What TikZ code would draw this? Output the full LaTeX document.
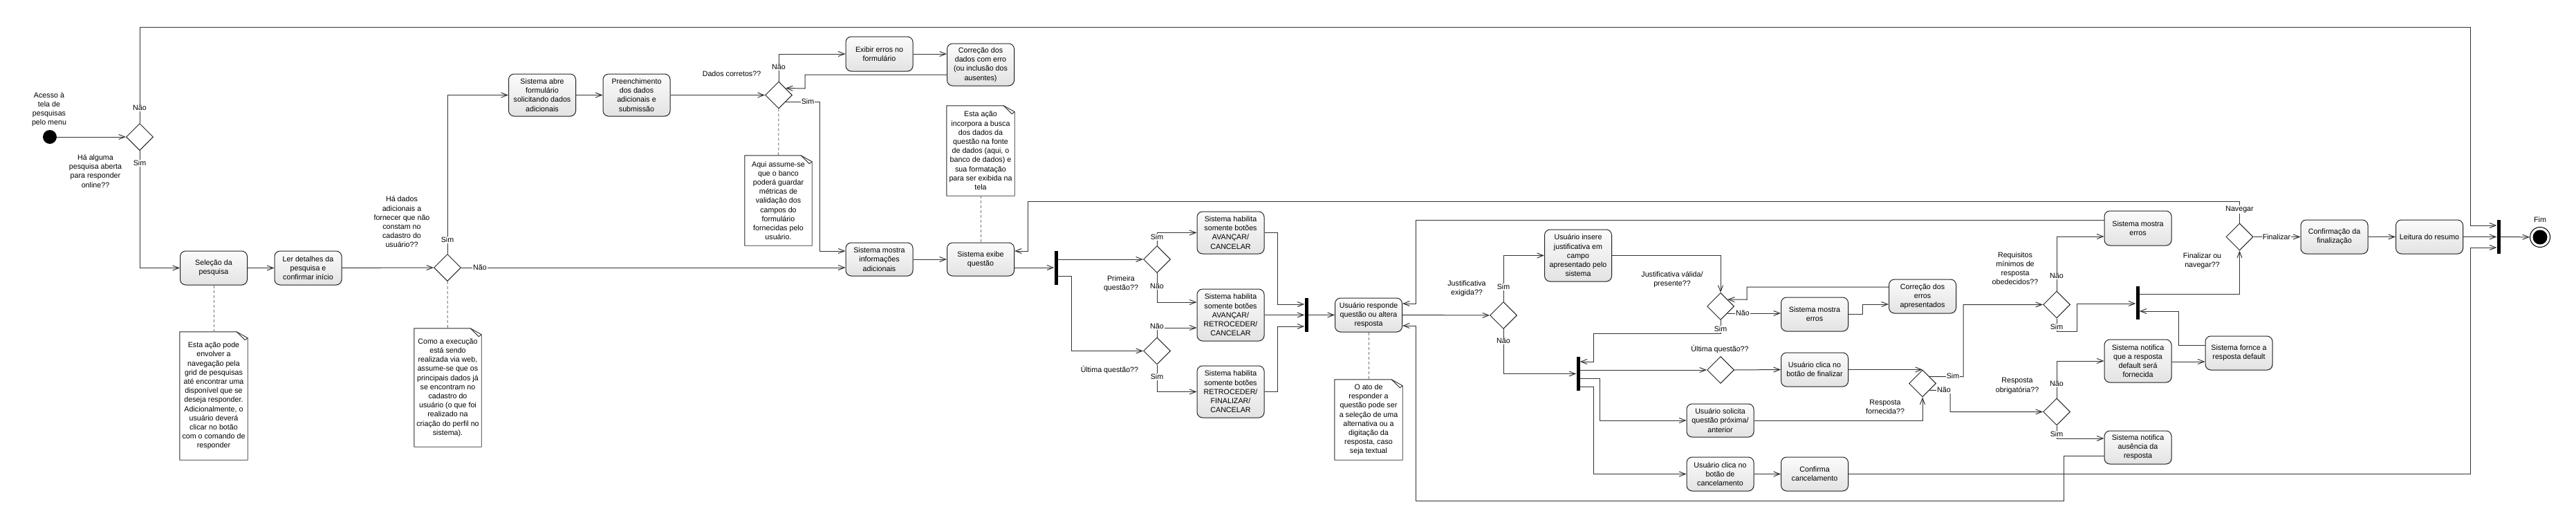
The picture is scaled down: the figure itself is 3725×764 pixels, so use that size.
\documentclass[tikz,border=0pt]{standalone}
\usepackage{fontspec}
\setmainfont{Liberation Sans}
\usetikzlibrary{positioning}
\usetikzlibrary{shapes.geometric,arrows.meta,shadows}
\newcommand{\diagfont}{\fontsize{10.7}{13.2}\selectfont}
\tikzstyle{act}=[rectangle, rounded corners=8pt, draw=black!85, line width=1pt, top color=gray!3, bottom color=gray!22, drop shadow={opacity=0.2,shadow xshift=1pt,shadow yshift=-1pt}, minimum width=97pt, minimum height=49pt, inner sep=3pt, align=center, font=\diagfont]
\tikzstyle{dec}=[diamond, draw=black!85, line width=1pt, fill=white, minimum width=39pt, minimum height=39pt, inner sep=0pt]
\tikzstyle{syncbar}=[rectangle, fill=black, minimum width=5pt, inner sep=0pt]
\tikzstyle{memo}=[rectangle, fill=white, minimum width=98pt, inner sep=3pt, align=center, font=\diagfont]
\tikzstyle{memoline}=[draw=black!85, line width=0.9pt, line join=round]
\tikzstyle{cond}=[align=center, inner sep=0pt, font=\diagfont]
\tikzstyle{lbl}=[fill=white, inner sep=1pt, font=\diagfont]
\tikzstyle{flow}=[draw=black!80, line width=1pt, -{Straight Barb[length=9pt,width=7pt]}]
\tikzstyle{link}=[draw=black!55, line width=1pt, dash pattern=on 4pt off 3pt]
\tikzstyle{startdot}=[circle, fill=black, minimum size=20pt, inner sep=0pt]
\tikzstyle{endring}=[circle, draw=black, line width=1pt, fill=white, minimum size=29pt, inner sep=0pt]
\newcommand{\memofold}[1]{%
  \draw[memoline] (#1.north west) -- ([xshift=-16pt]#1.north east) -- ([yshift=-9pt]#1.north east) -- (#1.south east) -- (#1.south west) -- cycle;
  \draw[memoline] ([xshift=-16pt]#1.north east) -- ([xshift=-4pt,yshift=-12pt]#1.north east) -- ([yshift=-9pt]#1.north east);}

\begin{document}
\begin{tikzpicture}[x=1pt,y=-1pt]
  \useasboundingbox (0,0) rectangle (3725,764);

  % entrada
  \node[startdot] (start) at (72,198) {};
  \node[cond] (cAcesso) at (71,158) {Acesso à\\tela de\\pesquisas\\pelo menu};
  \node[dec] (d1) at (202,198) {};
  \node[cond] (cAberta) at (138,247.5) {Há alguma\\pesquisa aberta\\para responder\\online??};
  \node[act] (sel) at (309,387.5) {Seleção da\\pesquisa};
  \node[act] (ler) at (445.5,387.5) {Ler detalhes da\\pesquisa e\\confirmar início};
  \node[memo, minimum height=185pt] (n1) at (309,572.5) {Esta ação pode\\envolver a\\navegação pela\\grid de pesquisas\\até encontrar uma\\disponível que se\\deseja responder.\\Adicionalmente, o\\usuário deverá\\clicar no botão\\com o comando de\\responder};

  % dados adicionais
  \node[dec] (d2) at (647,387) {};
  \node[cond] (cDados) at (581,321) {Há dados\\adicionais a\\fornecer que não\\constam no\\cadastro do\\usuário??};
  \node[memo, minimum height=171pt, minimum width=97pt] (n2) at (647.5,560.5) {Como a execução\\está sendo\\realizada via web,\\assume-se que os\\principais dados já\\se encontram no\\cadastro do\\usuário (o que foi\\realizado na\\criação do perfil no\\sistema).};
  \node[act, minimum height=61pt] (abre) at (784,137.5) {Sistema abre\\formulário\\solicitando dados\\adicionais};
  \node[act, minimum height=61pt] (preench) at (920.5,137.5) {Preenchimento\\dos dados\\adicionais e\\submissão};
  \node[dec] (d3) at (1126,137.5) {};
  \node[cond] (cCorretos) at (1058,107) {Dados corretos??};
  \node[memo, minimum height=130pt, minimum width=97pt] (n3) at (1125.5,290) {Aqui assume-se\\que o banco\\poderá guardar\\métricas de\\validação dos\\campos do\\formulário\\fornecidas pelo\\usuário.};
  \node[act, minimum height=50pt] (exibir) at (1271.5,78) {Exibir erros no\\formulário};
  \node[act, minimum height=61pt] (corrdados) at (1418,93.5) {Correção dos\\dados com erro\\(ou inclusão dos\\ausentes)};
  \node[act, minimum height=48pt] (mostrainfo) at (1271.5,375) {Sistema mostra\\informações\\adicionais};
  \node[act, minimum height=48pt] (exibeq) at (1418,375) {Sistema exibe\\questão};
  \node[memo, minimum height=130pt] (n4) at (1418,218) {Esta ação\\incorpora a busca\\dos dados da\\questão na fonte\\de dados (aqui, o\\banco de dados) e\\sua formatação\\para ser exibida na\\tela};

  % botões
  \node[syncbar, minimum height=49pt] (fork1) at (1527,387.5) {};
  \node[dec] (d4) at (1673,375) {};
  \node[cond] (cPrimeira) at (1621,410) {Primeira\\questão??};
  \node[dec] (d5) at (1673,507.5) {};
  \node[cond] (cUltima) at (1604.5,535) {Última questão??};
  \node[act, minimum height=61pt] (hab1) at (1779.5,336.5) {Sistema habilita\\somente botões\\AVANÇAR/\\CANCELAR};
  \node[act, minimum height=75pt] (hab2) at (1779.5,455.5) {Sistema habilita\\somente botões\\AVANÇAR/\\RETROCEDER/\\CANCELAR};
  \node[act, minimum height=75pt] (hab3) at (1779.5,566.5) {Sistema habilita\\somente botões\\RETROCEDER/\\FINALIZAR/\\CANCELAR};
  \node[syncbar, minimum height=49pt] (join1) at (1889,455.5) {};

  % resposta
  \node[act] (responde) at (1979,455.5) {Usuário responde\\questão ou altera\\resposta};
  \node[memo, minimum height=116pt] (n5) at (1979,607) {O ato de\\responder a\\questão pode ser\\a seleção de uma\\alternativa ou a\\digitação da\\resposta, caso\\seja textual};
  \node[dec] (d6) at (2174,456) {};
  \node[cond] (cExigida) at (2121,417.5) {Justificativa\\exigida??};
  \node[act, minimum height=75pt] (insere) at (2282,369.5) {Usuário insere\\justificativa em\\campo\\apresentado pelo\\sistema};
  \node[dec] (d7) at (2488,443) {};
  \node[cond] (cValida) at (2418,404.5) {Justificativa válida/\\presente??};
  \node[syncbar, minimum height=49pt] (fork2) at (2282,540.5) {};
  \node[dec] (d8) at (2488,535) {};
  \node[cond] (cUltima2) at (2487,505) {Última questão??};
  \node[act, minimum height=48pt] (solicita) at (2487.5,608) {Usuário solicita\\questão próxima/\\anterior};
  \node[act] (cancela) at (2487.5,685.5) {Usuário clica no\\botão de\\cancelamento};
  \node[act] (erros2) at (2624,454.5) {Sistema mostra\\erros};
  \node[act] (corrErros) at (2780,428.5) {Correção dos\\erros\\apresentados};
  \node[act] (finalizar) at (2624,534.5) {Usuário clica no\\botão de finalizar};
  \node[act] (confirma) at (2624,685.5) {Confirma\\cancelamento};
  \node[dec] (d9) at (2780,554.5) {};
  \node[cond] (cFornecida) at (2726,588.5) {Resposta\\fornecida??};
  \node[dec] (d10) at (2974,440.5) {};
  \node[cond] (cRequisitos) at (2914,388) {Requisitos\\mínimos de\\resposta\\obedecidos??};
  \node[dec] (d11) at (2974,595.5) {};
  \node[cond] (cObrig) at (2917,558) {Resposta\\obrigatória??};
  \node[act, minimum height=50pt] (erros1) at (3091.5,330) {Sistema mostra\\erros};
  \node[act, minimum height=62pt] (notdef) at (3091.5,522) {Sistema notifica\\que a resposta\\default será\\fornecida};
  \node[act, minimum height=48pt] (notaus) at (3091.5,647) {Sistema notifica\\ausência da\\resposta};
  \node[act] (fornce) at (3237.5,510.5) {Sistema fornce a\\resposta default};
  \node[syncbar, minimum height=48pt] (fork3) at (3091,438) {};

  % final
  \node[dec] (d12) at (3238.5,342.5) {};
  \node[cond] (cFinNav) at (3184.5,377.5) {Finalizar ou\\navegar??};
  \node[act] (confFin) at (3375.5,342.5) {Confirmação da\\finalização};
  \node[act] (leitura) at (3513,342.5) {Leitura do resumo};
  \node[syncbar, minimum height=49pt] (endbar) at (3613,342.5) {};
  \node[endring] (fim) at (3673,343) {};
  \node[circle, fill=black, minimum size=21pt, inner sep=0pt] (fimdot) at (fim) {};
  \node[cond] (cFim) at (3673,318) {Fim};

  \memofold{n1}
  \memofold{n2}
  \memofold{n3}
  \memofold{n4}
  \memofold{n5}

  \draw[link] (sel) -- (n1);
  \draw[link] (d2) -- (n2);
  \draw[link] (d3) -- (n3);
  \draw[link] (n4) -- (exibeq);
  \draw[link] (responde) -- (n5);

  \draw[flow] (start) -- (d1);
  \draw[flow] (d1.north) |- (3572,39) |- (endbar.west |- 0,326);
  \draw[flow] (d1.south) |- (sel.west);
  \draw[flow] (sel) -- (ler);
  \draw[flow] (ler) -- (d2);
  \draw[flow] (d2.north) |- (abre.west);
  \draw[flow] (d2.east) -- (mostrainfo.west |- d2.east);
  \draw[flow] (abre) -- (preench);
  \draw[flow] (preench) -- (d3);
  \draw[flow] (d3.north) |- (exibir.west);
  \draw[flow] (exibir.east) -- (corrdados.west |- exibir.east);
  \draw[flow] (corrdados.west |- 0,108) -| (1164,128) -- (d3.north east);
  \draw[flow] (d3.south east) -| (1185,363) -- (mostrainfo.west |- 0,363);
  \draw[flow] (mostrainfo) -- (exibeq);
  \draw[flow] (exibeq.east |- 0,387) -- (fork1.west |- 0,387);
  \draw[flow] (fork1.east |- d4) -- (d4.west);
  \draw[flow] (fork1.east |- 0,399) -- (1549,399) |- (d5.west);
  \draw[flow] (d4.north) |- (hab1.west);
  \draw[flow] (d4.south) |- (hab2.west |- 0,437);
  \draw[flow] (d5.north) |- (hab2.west |- 0,474);
  \draw[flow] (d5.south) |- (hab3.west);
  \draw[flow] (hab1.east) -| (1847,440) -- (join1.west |- 0,440);
  \draw[flow] (hab2.east) -- (join1.west);
  \draw[flow] (hab3.east) -| (1847,472) -- (join1.west |- 0,472);
  \draw[flow] (join1.east) -- (responde.west);
  \draw[flow] (responde.east) -- (d6.west);
  \draw[flow] (d6.north) |- (insere.west);
  \draw[flow] (d6.south) |- (fork2.west);
  \draw[flow] (insere.east) -| (d7.north);
  \draw[flow] (d7.south east) -- (erros2.west |- d7.south east);
  \draw[flow] (erros2.east) -| (2693,440) -- (corrErros.west |- 0,440);
  \draw[flow] (corrErros.west |- 0,415) -| (2526,433.25) -- (d7.north east);
  \draw[flow] (d7.south) |- (2304,482) -- (2304,523) -- (fork2.east |- 0,523);
  \draw[flow] (fork2.east |- d8) -- (d8.west);
  \draw[flow] (fork2.east |- 0,547) -- (2313,547) |- (solicita.west);
  \draw[flow] (fork2.east |- 0,559) -- (2304,559) |- (cancela.west);
  \draw[flow] (d8.east) -- (finalizar.west);
  \draw[flow] (finalizar.east) -- (d9.north);
  \draw[flow] (solicita.east) -| (d9.south);
  \draw[flow] (cancela) -- (confirma);
  \draw[flow] (d9.north east) -- (2839,544.75) |- (d10.west);
  \draw[flow] (d9.south east) -- (2820,564.25) |- (d11.west);
  \draw[flow] (d10.north) |- (erros1.west |- 0,342);
  \draw[flow] (d10.south) -- (2974,479) -| (3003,439) -- (fork3.west |- 0,439);
  \draw[flow] (erros1.west |- 0,318) -- (2047,318) |- (responde.east |- 0,439);
  \draw[flow] (d11.north) |- (notdef.west);
  \draw[flow] (d11.south) |- (notaus.west |- 0,634);
  \draw[flow] (notdef.east |- 0,523) -- (fornce.west |- 0,523);
  \draw[flow] (fornce.west |- 0,499) -| (3150,450) -- (fork3.east |- 0,450);
  \draw[flow] (notaus.west |- 0,659) -| (2984,724) -| (2047,471) -- (responde.east |- 0,471);
  \draw[flow] (fork3.east |- 0,425) -| (d12.south);
  \draw[flow] (d12.north) |- (1486,291) |- (exibeq.east |- 0,363);
  \draw[flow] (d12.east) -- (confFin.west);
  \draw[flow] (confFin) -- (leitura);
  \draw[flow] (leitura) -- (endbar);
  \draw[flow] (confirma.east) -| (3572,358) -- (endbar.west |- 0,358);
  \draw[flow] (endbar.east) -- (fim);

  % guardas
  \node[lbl] (g1) at (202,156) {Não};
  \node[lbl] (g2) at (202,236) {Sim};
  \node[lbl] (g3) at (647,347) {Sim};
  \node[lbl] (g4) at (694,387) {Não};
  \node[lbl] (g5) at (1126,97) {Não};
  \node[lbl] (g6) at (1168,147) {Sim};
  \node[lbl] (g7) at (1673,343) {Sim};
  \node[lbl] (g8) at (1673,414) {Não};
  \node[lbl] (g9) at (1673,472) {Não};
  \node[lbl] (g10) at (1673,545) {Sim};
  \node[lbl] (g11) at (2174,415) {Sim};
  \node[lbl] (g12) at (2174,493) {Não};
  \node[lbl] (g13) at (2520,453) {Não};
  \node[lbl] (g14) at (2488,476) {Sim};
  \node[lbl] (g15) at (2824,544) {Sim};
  \node[lbl] (g16) at (2811,564) {Não};
  \node[lbl] (g17) at (2974,399) {Não};
  \node[lbl] (g18) at (2974,473) {Sim};
  \node[lbl] (g19) at (2974,555) {Não};
  \node[lbl] (g20) at (2974,628) {Sim};
  \node[lbl] (g21) at (3238.5,303) {Navegar};
  \node[lbl] (g22) at (3292,342.5) {Finalizar};
\end{tikzpicture}
\end{document}
